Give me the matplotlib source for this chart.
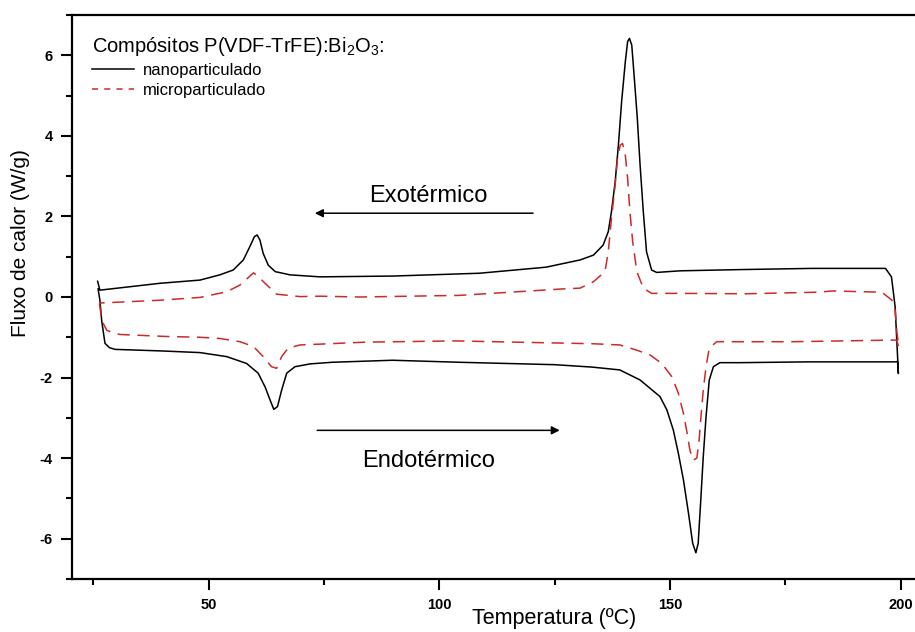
import matplotlib
matplotlib.use("Agg")
import matplotlib.pyplot as plt
from matplotlib.lines import Line2D
from matplotlib.ticker import MultipleLocator

plt.rcParams['font.family'] = ['Liberation Sans', 'DejaVu Sans']
plt.rcParams['mathtext.default'] = 'regular'
plt.rcParams['axes.unicode_minus'] = False

# DSC - nanoparticulado: aquecimento (25 -> 200 C) e resfriamento (200 -> 25 C)
T_nano_aq = [26.0, 26.4, 26.8, 27.5, 28.5, 29.7, 40.0, 48.1, 53.9, 58.2, 60.7, 62.2,
             63.3, 64.1, 64.9, 65.8, 66.9, 68.7, 72.0, 76.8, 89.8, 104.3, 125.0, 133.1,
             139.1, 143.5, 147.8, 149.3, 150.7, 151.8, 152.9, 154.0, 154.9, 155.6, 156.1,
             156.7, 157.2, 157.8, 158.5, 159.4, 160.8, 165.2, 180.0, 198.9, 199.3]
W_nano_aq = [0.20, -0.08, -0.60, -1.15, -1.26, -1.30, -1.34, -1.38, -1.48, -1.65, -1.89, -2.23,
             -2.56, -2.79, -2.72, -2.31, -1.89, -1.73, -1.66, -1.62, -1.57, -1.62, -1.68, -1.74,
             -1.81, -2.06, -2.47, -2.80, -3.30, -3.88, -4.54, -5.37, -6.11, -6.35, -6.11,
             -4.96, -3.96, -2.97, -2.06, -1.73, -1.63, -1.63, -1.61, -1.61, -1.60]

T_nano_resf = [199.5, 198.8, 198.0, 196.7, 180.7, 165.0, 152.2, 147.1, 146.0, 144.9, 144.2,
               143.5, 142.9, 142.2, 141.7, 141.2, 140.8, 140.3, 139.5, 138.8, 138.1, 137.3,
               136.6, 135.5, 133.4, 130.5, 123.1, 108.7, 90.0, 74.1, 67.6, 64.4, 62.9, 61.8,
               61.1, 60.5, 59.9, 58.9, 57.5, 55.3, 52.4, 48.1, 39.4, 26.4, 25.9]
W_nano_resf = [-1.90, -0.25, 0.50, 0.71, 0.71, 0.68, 0.65, 0.61, 0.67, 1.12, 2.12,
               3.28, 4.44, 5.51, 6.25, 6.42, 6.34, 5.84, 4.85, 3.77, 2.86, 2.12,
               1.62, 1.29, 1.04, 0.92, 0.74, 0.59, 0.52, 0.50, 0.55, 0.63, 0.79, 1.08,
               1.41, 1.54, 1.50, 1.25, 0.92, 0.67, 0.55, 0.42, 0.34, 0.17, 0.39]

# DSC - microparticulado
T_micro_aq = [26.3, 26.8, 27.9, 30.7, 40.8, 48.1, 52.4, 56.8, 59.7, 61.8, 63.6, 64.7,
              65.8, 67.2, 69.8, 74.1, 84.1, 103.6, 133.2, 139.1, 142.8, 145.7, 148.2, 150.4,
              151.8, 152.9, 153.7, 154.3, 155.0, 155.8, 156.3, 156.7, 157.2, 157.8, 158.5,
              160.1, 165.2, 176.4, 198.1, 199.1, 199.6]
W_micro_aq = [-0.16, -0.58, -0.83, -0.93, -0.98, -1.00, -1.03, -1.11, -1.23, -1.48, -1.73, -1.77,
              -1.48, -1.27, -1.19, -1.17, -1.12, -1.09, -1.16, -1.19, -1.32, -1.44, -1.65, -1.98,
              -2.39, -2.89, -3.38, -3.80, -4.05, -4.00, -3.55, -2.97, -2.31, -1.73, -1.27,
              -1.11, -1.11, -1.11, -1.07, -1.07, -1.24]

T_micro_resf = [199.6, 199.2, 198.8, 198.1, 195.9, 185.1, 182.3, 166.4, 152.2, 146.0, 144.2,
                142.8, 141.9, 141.3, 140.8, 140.3, 139.7, 139.2, 138.6, 138.1, 137.3, 136.6,
                135.9, 133.4, 130.5, 126.6, 104.3, 82.7, 74.1, 69.8, 64.7, 62.2, 60.8, 59.7,
                56.8, 53.9, 48.1, 39.4, 26.3]
W_micro_resf = [-1.24, -0.90, -0.33, -0.08, 0.12, 0.15, 0.12, 0.08, 0.09, 0.09, 0.22,
                0.63, 1.37, 2.12, 2.95, 3.52, 3.81, 3.77, 3.44, 2.78, 1.95, 1.12,
                0.63, 0.38, 0.22, 0.20, 0.04, 0.00, 0.02, 0.01, 0.07, 0.34, 0.50, 0.60,
                0.30, 0.13, -0.01, -0.08, -0.15]

cor_micro = '#cc2a2a'

fig = plt.figure(figsize=(9.15, 6.32), dpi=100)
ax = fig.add_axes([72/915, 53/632, 843/915, 564/632])

ax.plot(T_nano_aq + T_nano_resf, W_nano_aq + W_nano_resf, color='black', lw=1.1,
        solid_joinstyle='round')
ax.plot(T_micro_aq + T_micro_resf, W_micro_aq + W_micro_resf, color=cor_micro,
        lw=1.1, dashes=(8, 5))

ax.set_xlim(20.35, 203.1)
ax.set_ylim(-7, 7)
ax.xaxis.set_major_locator(MultipleLocator(50))
ax.xaxis.set_minor_locator(MultipleLocator(25))
ax.yaxis.set_major_locator(MultipleLocator(2))
ax.yaxis.set_minor_locator(MultipleLocator(1))

ax.spines['right'].set_visible(False)
for lado in ['left', 'bottom', 'top']:
    ax.spines[lado].set_linewidth(1.6)
ax.tick_params(which='major', direction='out', length=8, width=1.5, pad=6,
               labelsize=10.5, top=False, right=False)
ax.tick_params(which='minor', direction='out', length=4.5, width=1.5, top=False, right=False)
for lbl in ax.get_xticklabels() + ax.get_yticklabels():
    lbl.set_fontweight('bold')

ax.set_xlabel('Temperatura (ºC)', fontsize=15.5)
ax.xaxis.set_label_coords(0.572, -0.052)
ax.set_ylabel('Fluxo de calor (W/g)', fontsize=15)
ax.yaxis.set_label_coords(-0.05, 0.596)

# setas indicando o sentido dos eventos
ax.annotate('', xy=(73.0, 2.08), xytext=(120.3, 2.08),
            arrowprops=dict(arrowstyle='-|>', color='black', lw=1.1,
                            mutation_scale=12, shrinkA=0, shrinkB=0))
ax.text(97.7, 2.37, 'Exotérmico', fontsize=17, ha='center', va='baseline')
ax.annotate('', xy=(126.1, -3.31), xytext=(73.5, -3.31),
            arrowprops=dict(arrowstyle='-|>', color='black', lw=1.1,
                            mutation_scale=12, shrinkA=0, shrinkB=0))
ax.text(97.7, -4.23, 'Endotérmico', fontsize=17, ha='center', va='baseline')

handles = [Line2D([], [], color='black', lw=1.1),
           Line2D([], [], color=cor_micro, lw=1.1, dashes=(4, 4))]
leg = ax.legend(handles, ['nanoparticulado', 'microparticulado'],
                title='Compósitos P(VDF-TrFE):Bi$_2$O$_3$:', title_fontsize=14.5,
                fontsize=12, loc='upper left', bbox_to_anchor=(0.01, 0.985),
                frameon=False, alignment='left', handlelength=2.5,
                handletextpad=0.55, labelspacing=0.3, borderpad=0.2)

fig.savefig('out.png', dpi=100)
